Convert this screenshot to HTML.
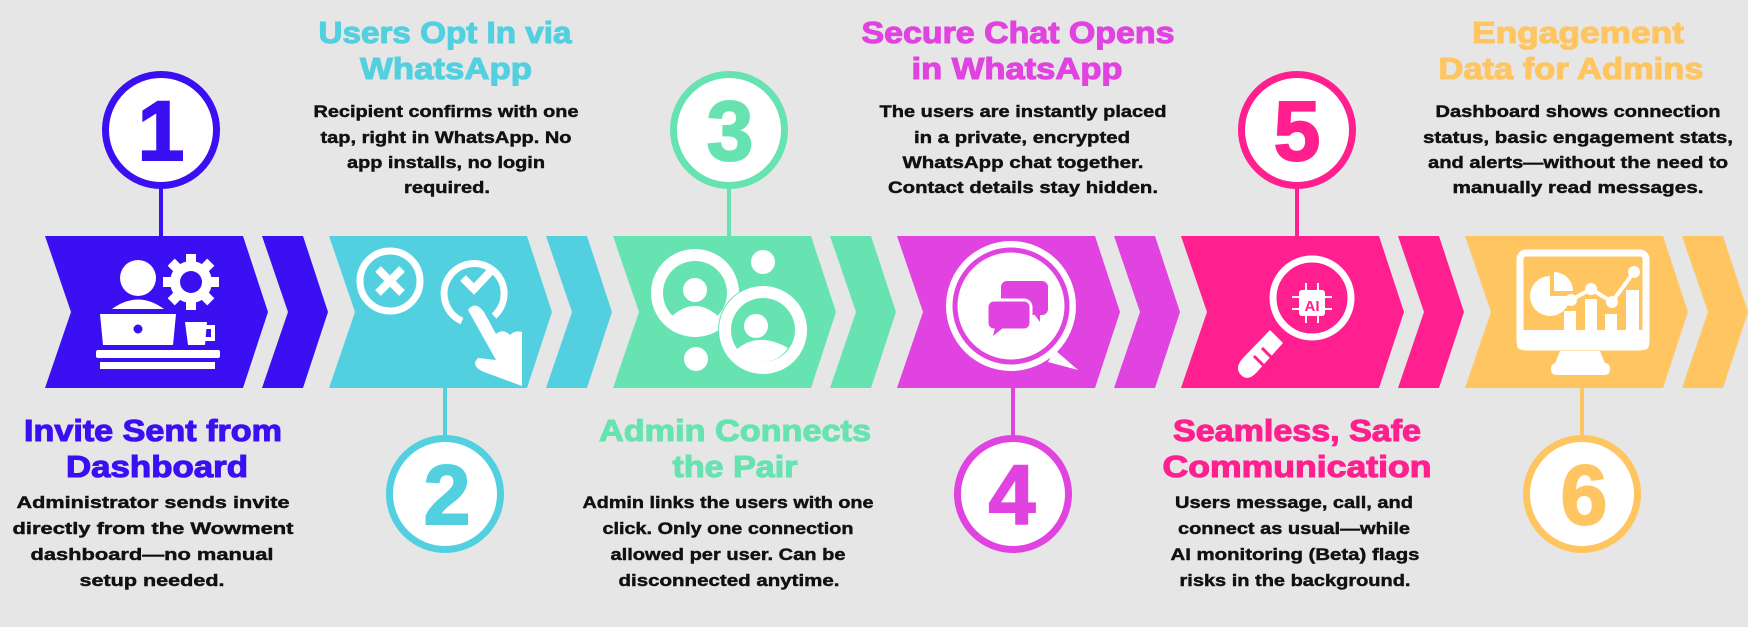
<!DOCTYPE html>
<html><head><meta charset="utf-8">
<style>
html,body{margin:0;padding:0;background:#e6e6e6;}
svg{display:block;}
text{font-family:"Liberation Sans",Arial,sans-serif;font-weight:bold;text-anchor:middle;}
.t{font-size:31px;stroke-width:1.1px;}
.b{font-size:17px;fill:#111;stroke:#111;stroke-width:0.45px;}
.n{font-size:84px;stroke-width:2px;}
</style></head><body>
<svg width="1748" height="627" viewBox="0 0 1748 627" xmlns="http://www.w3.org/2000/svg">
<rect width="1748" height="627" fill="#e6e6e6"/>

<g fill="#3a0ff2">
<polygon points="45,236 243,236 268,312 243,388 45,388 71,312"/>
<polygon points="262,236 303,236 328,312 303,388 262,388 288,312"/>
</g>
<g fill="#52d0e0">
<polygon points="329,236 527,236 552,312 527,388 329,388 355,312"/>
<polygon points="546,236 587,236 612,312 587,388 546,388 572,312"/>
</g>
<g fill="#66e3b1">
<polygon points="613,236 811,236 836,312 811,388 613,388 639,312"/>
<polygon points="830,236 871,236 896,312 871,388 830,388 856,312"/>
</g>
<g fill="#e043e0">
<polygon points="897,236 1095,236 1120,312 1095,388 897,388 923,312"/>
<polygon points="1114,236 1155,236 1180,312 1155,388 1114,388 1140,312"/>
</g>
<g fill="#ff1f8e">
<polygon points="1181,236 1379,236 1404,312 1379,388 1181,388 1207,312"/>
<polygon points="1398,236 1439,236 1464,312 1439,388 1398,388 1424,312"/>
</g>
<g fill="#ffc560">
<polygon points="1465,236 1663,236 1688,312 1663,388 1465,388 1491,312"/>
<polygon points="1682,236 1723,236 1748,312 1723,388 1682,388 1708,312"/>
</g>

<g stroke-width="4">
<line x1="161" y1="188" x2="161" y2="236" stroke="#3a0ff2"/>
<line x1="445" y1="388" x2="445" y2="436" stroke="#52d0e0"/>
<line x1="729" y1="188" x2="729" y2="236" stroke="#66e3b1"/>
<line x1="1013" y1="388" x2="1013" y2="436" stroke="#e043e0"/>
<line x1="1297" y1="188" x2="1297" y2="236" stroke="#ff1f8e"/>
<line x1="1582" y1="388" x2="1582" y2="436" stroke="#ffc560"/>
</g>
<g fill="#fff" stroke-width="7">
<circle cx="161" cy="130" r="55.5" stroke="#3a0ff2"/>
<circle cx="445" cy="494" r="55.5" stroke="#52d0e0"/>
<circle cx="729" cy="130" r="55.5" stroke="#66e3b1"/>
<circle cx="1013" cy="494" r="55.5" stroke="#e043e0"/>
<circle cx="1297" cy="130" r="55.5" stroke="#ff1f8e"/>
<circle cx="1582" cy="494" r="55.5" stroke="#ffc560"/>
</g>
<text class="n" x="161" y="160" fill="#3a0ff2" stroke="#3a0ff2">1</text>
<text class="n" x="447" y="524" fill="#52d0e0" stroke="#52d0e0">2</text>
<text class="n" x="730" y="160" fill="#66e3b1" stroke="#66e3b1">3</text>
<text class="n" x="1012" y="524" fill="#e043e0" stroke="#e043e0">4</text>
<text class="n" x="1297" y="160" fill="#ff1f8e" stroke="#ff1f8e">5</text>
<text class="n" x="1584" y="524" fill="#ffc560" stroke="#ffc560">6</text>

<g fill="#fff">
<circle cx="138" cy="278" r="18"/>
<path d="M112,309 Q138,290 164,309 Z"/>
<circle cx="191" cy="282" r="21"/>
<g transform="translate(191,282)">
<rect x="-5" y="-28" width="10" height="56"/>
<rect x="-28" y="-5" width="56" height="10"/>
<rect x="-5" y="-28" width="10" height="56" transform="rotate(45)"/>
<rect x="-5" y="-28" width="10" height="56" transform="rotate(-45)"/>
</g>
<path d="M100,314 L176,314 L173,345 L103,345 Z"/>
<path d="M185,322 L207,322 L205,345 L188,345 Z"/>
<path d="M205,327 h8 v12 h-8" fill="none" stroke="#fff" stroke-width="4"/>
<rect x="96" y="350" width="124" height="8" rx="2"/>
<rect x="100" y="362" width="115" height="7"/>
</g>
<circle cx="191" cy="282" r="11" fill="#3a0ff2"/>
<circle cx="138" cy="329" r="4.5" fill="#3a0ff2"/>

<g fill="none" stroke="#fff" stroke-width="7">
<circle cx="390" cy="281" r="30"/>
<path d="M462,321 A30,30 0 1 1 494,316"/>
<path d="M378,269 L402,293 M402,269 L378,293" stroke-width="8"/>
<path d="M463,278 L474,289 L490,272" stroke-width="8"/>
</g>
<path d="M468,310 Q475,300 484,312 L496,334 Q503,328 510,335 Q515,330 522,332 L522,386 L484,372 Q470,366 478,358 L496,360 Z" fill="#fff"/>

<g>
<circle cx="695" cy="293" r="44" fill="#fff"/>
<circle cx="695" cy="293" r="32" fill="#66e3b1"/>
<circle cx="695" cy="290" r="12" fill="#fff"/>
<path d="M672,316 Q695,296 718,316 Q707,326 695,326 Q683,326 672,316 Z" fill="#fff"/>
<circle cx="763" cy="330" r="45" fill="#66e3b1"/>
<circle cx="763" cy="330" r="44" fill="#fff"/>
<circle cx="763" cy="330" r="32" fill="#66e3b1"/>
<circle cx="756" cy="326" r="12" fill="#fff"/>
<path d="M734,352 Q756,330 788,348 Q778,362 763,362 Q745,362 734,352 Z" fill="#fff"/>
<circle cx="763" cy="262" r="12" fill="#fff"/>
<circle cx="696" cy="359" r="12" fill="#fff"/>
</g>

<g>
<circle cx="1011" cy="306" r="65" fill="#fff"/>
<path d="M1055,350 L1078,370 L1048,362 Z" fill="#fff"/>
<circle cx="1011" cy="306" r="56" fill="none" stroke="#e043e0" stroke-width="5"/>
<rect x="1001" y="281" width="47" height="34" rx="6" fill="#e043e0"/>
<path d="M1034,314 L1040,322 L1040,312 Z" fill="#e043e0"/>
<rect x="987" y="300" width="44" height="30" rx="7" fill="#e043e0" stroke="#fff" stroke-width="3"/>
<path d="M995,328 L993,336 L1003,328 Z" fill="#e043e0"/>
</g>

<g>
<circle cx="1312" cy="298" r="39" fill="none" stroke="#fff" stroke-width="7"/>
<path d="M1270,330 L1283,343 L1257,372 Q1248,382 1241,375 Q1234,368 1243,358 Z" fill="#fff"/>
<path d="M1262,348 L1275,361 M1254,356 L1267,369" stroke="#ff1f8e" stroke-width="3"/>
<rect x="1299" y="290" width="26" height="26" rx="3" fill="#fff"/>
<g stroke="#fff" stroke-width="2">
<line x1="1306" y1="283" x2="1306" y2="323"/><line x1="1318" y1="283" x2="1318" y2="323"/>
<line x1="1292" y1="297" x2="1332" y2="297"/><line x1="1292" y1="309" x2="1332" y2="309"/>
</g>
<text x="1312" y="311" fill="#ff1f8e" style="font-size:15px">AI</text>
</g>

<g>
<rect x="1520" y="253" width="126" height="94" rx="6" fill="none" stroke="#fff" stroke-width="7"/>
<rect x="1517" y="330" width="132" height="20" rx="5" fill="#fff"/>
<path d="M1560,351 L1600,351 L1606,366 L1554,366 Z" fill="#fff"/>
<rect x="1551" y="363" width="59" height="12" rx="5" fill="#fff"/>
<path d="M1550,276 A20,20 0 1 0 1570,296 L1550,296 Z" fill="#fff"/>
<path d="M1554,272 L1554,291 L1573,291 A19,19 0 0 0 1554,272 Z" fill="#fff"/>
<rect x="1564" y="311" width="12" height="19" fill="#fff"/>
<rect x="1585" y="299" width="12" height="31" fill="#fff"/>
<rect x="1605" y="314" width="12" height="16" fill="#fff"/>
<rect x="1626" y="290" width="13" height="40" fill="#fff"/>
<polyline points="1571,300 1591,289 1612,302 1634,272" fill="none" stroke="#fff" stroke-width="4"/>
<circle cx="1571" cy="300" r="6" fill="#fff"/><circle cx="1591" cy="289" r="6" fill="#fff"/>
<circle cx="1612" cy="302" r="6" fill="#fff"/><circle cx="1634" cy="272" r="6" fill="#fff"/>
</g>

<text class="t" fill="#3a0ff2" stroke="#3a0ff2" x="153" y="441" textLength="258" lengthAdjust="spacingAndGlyphs">Invite Sent from</text>
<text class="t" fill="#3a0ff2" stroke="#3a0ff2" x="157" y="477" textLength="182" lengthAdjust="spacingAndGlyphs">Dashboard</text>
<text class="b" x="153" y="508" textLength="273" lengthAdjust="spacingAndGlyphs">Administrator sends invite</text>
<text class="b" x="153" y="534" textLength="281" lengthAdjust="spacingAndGlyphs">directly from the Wowment</text>
<text class="b" x="152" y="560" textLength="243" lengthAdjust="spacingAndGlyphs">dashboard—no manual</text>
<text class="b" x="152" y="586" textLength="145" lengthAdjust="spacingAndGlyphs">setup needed.</text>

<text class="t" fill="#52d0e0" stroke="#52d0e0" x="445" y="43" textLength="253" lengthAdjust="spacingAndGlyphs">Users Opt In via</text>
<text class="t" fill="#52d0e0" stroke="#52d0e0" x="446" y="79" textLength="172" lengthAdjust="spacingAndGlyphs">WhatsApp</text>
<text class="b" x="446" y="117" textLength="265" lengthAdjust="spacingAndGlyphs">Recipient confirms with one</text>
<text class="b" x="446" y="143" textLength="251" lengthAdjust="spacingAndGlyphs">tap, right in WhatsApp. No</text>
<text class="b" x="446" y="168" textLength="198" lengthAdjust="spacingAndGlyphs">app installs, no login</text>
<text class="b" x="447" y="193" textLength="86" lengthAdjust="spacingAndGlyphs">required.</text>

<text class="t" fill="#66e3b1" stroke="#66e3b1" x="735" y="441" textLength="272" lengthAdjust="spacingAndGlyphs">Admin Connects</text>
<text class="t" fill="#66e3b1" stroke="#66e3b1" x="735" y="477" textLength="125" lengthAdjust="spacingAndGlyphs">the Pair</text>
<text class="b" x="728" y="508" textLength="291" lengthAdjust="spacingAndGlyphs">Admin links the users with one</text>
<text class="b" x="728" y="534" textLength="251" lengthAdjust="spacingAndGlyphs">click. Only one connection</text>
<text class="b" x="728" y="560" textLength="235" lengthAdjust="spacingAndGlyphs">allowed per user. Can be</text>
<text class="b" x="729" y="586" textLength="221" lengthAdjust="spacingAndGlyphs">disconnected anytime.</text>

<text class="t" fill="#e043e0" stroke="#e043e0" x="1018" y="43" textLength="313" lengthAdjust="spacingAndGlyphs">Secure Chat Opens</text>
<text class="t" fill="#e043e0" stroke="#e043e0" x="1017" y="79" textLength="211" lengthAdjust="spacingAndGlyphs">in WhatsApp</text>
<text class="b" x="1023" y="117" textLength="287" lengthAdjust="spacingAndGlyphs">The users are instantly placed</text>
<text class="b" x="1022" y="143" textLength="216" lengthAdjust="spacingAndGlyphs">in a private, encrypted</text>
<text class="b" x="1023" y="168" textLength="241" lengthAdjust="spacingAndGlyphs">WhatsApp chat together.</text>
<text class="b" x="1023" y="193" textLength="270" lengthAdjust="spacingAndGlyphs">Contact details stay hidden.</text>

<text class="t" fill="#ff1f8e" stroke="#ff1f8e" x="1297" y="441" textLength="248" lengthAdjust="spacingAndGlyphs">Seamless, Safe</text>
<text class="t" fill="#ff1f8e" stroke="#ff1f8e" x="1297" y="477" textLength="269" lengthAdjust="spacingAndGlyphs">Communication</text>
<text class="b" x="1294" y="508" textLength="238" lengthAdjust="spacingAndGlyphs">Users message, call, and</text>
<text class="b" x="1294" y="534" textLength="232" lengthAdjust="spacingAndGlyphs">connect as usual—while</text>
<text class="b" x="1295" y="560" textLength="249" lengthAdjust="spacingAndGlyphs">AI monitoring (Beta) flags</text>
<text class="b" x="1295" y="586" textLength="231" lengthAdjust="spacingAndGlyphs">risks in the background.</text>

<text class="t" fill="#ffc560" stroke="#ffc560" x="1578" y="43" textLength="212" lengthAdjust="spacingAndGlyphs">Engagement</text>
<text class="t" fill="#ffc560" stroke="#ffc560" x="1571" y="79" textLength="265" lengthAdjust="spacingAndGlyphs">Data for Admins</text>
<text class="b" x="1578" y="117" textLength="285" lengthAdjust="spacingAndGlyphs">Dashboard shows connection</text>
<text class="b" x="1578" y="143" textLength="310" lengthAdjust="spacingAndGlyphs">status, basic engagement stats,</text>
<text class="b" x="1578" y="168" textLength="300" lengthAdjust="spacingAndGlyphs">and alerts—without the need to</text>
<text class="b" x="1578" y="193" textLength="251" lengthAdjust="spacingAndGlyphs">manually read messages.</text>
</svg>
</body></html>
